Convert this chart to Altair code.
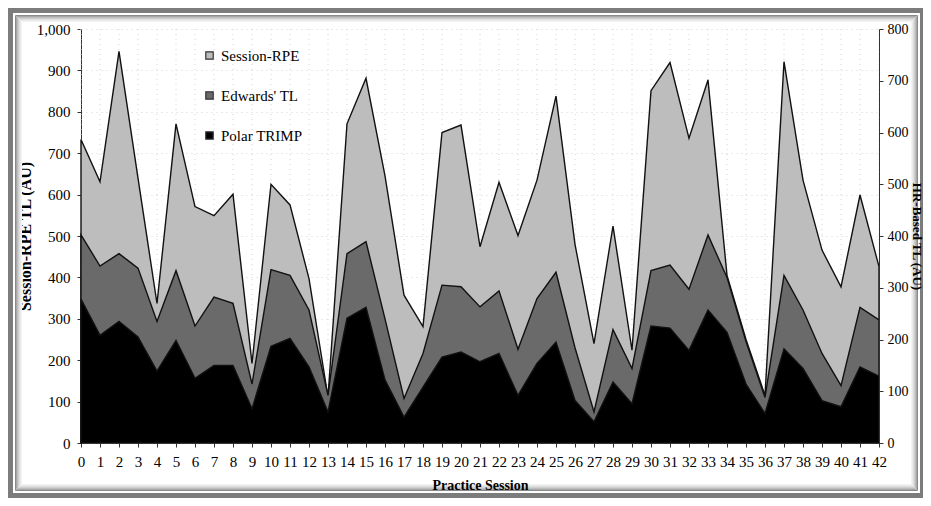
import altair as alt
import pandas as pd

sessions = list(range(43))
series_names = ["Session-RPE", "Edwards' TL", "Polar TRIMP"]
series_colors = ["#bdbdbd", "#6a6a6a", "#000000"]

# Session-RPE TL (left axis, AU)
session_rpe = [733, 631, 946, 640, 337, 771, 571, 549, 601, 192, 625,
               575, 397, 111, 771, 881, 645, 357, 281, 750, 768,
               474, 630, 501, 635, 838, 480, 240, 524, 224, 851,
               919, 736, 877, 405, 250, 115, 921, 635, 466, 377, 599, 426]
# HR-based TL (right axis, AU)
edwards_tl = [402, 342, 366, 338, 235, 333, 226, 282, 270, 114, 335,
              324, 257, 92, 366, 389, 240, 86, 173, 305, 302,
              263, 294, 181, 279, 330, 184, 60, 219, 144, 333,
              344, 297, 402, 320, 196, 88, 324, 257, 173, 111, 262, 238]
polar_trimp = [278, 208, 235, 205, 139, 198, 125, 150, 150, 66, 187,
               202, 147, 60, 241, 262, 122, 50, 108, 166, 176,
               157, 173, 92, 154, 195, 82, 41, 118, 76, 226,
               222, 179, 257, 214, 114, 57, 182, 144, 82, 70, 147, 129]

left_ticks = list(range(0, 1001, 100))
right_ticks = list(range(0, 801, 100))

rows = []
for name, vals in zip(series_names, [session_rpe, edwards_tl, polar_trimp]):
    for s, v in zip(sessions, vals):
        rows.append({"session": s, "series": name, "value": v})
df = pd.DataFrame(rows)
df_sessions = pd.DataFrame({"session": sessions})

FONT = "Liberation Serif"
W, H = 798, 414
PAD = {"left": 73, "top": 21, "right": 44, "bottom": 55}
CW = W + PAD["left"] + PAD["right"]
CH = H + PAD["top"] + PAD["bottom"]
RIGHT_SHIFT = 2  # frame's right side partly runs off the canvas


def frame(inset, color, width):
    # rectangle outline at given inset from the canvas edge (plot-relative pixels)
    return alt.Chart(alt.Data(values=[{}])).mark_rect(
        filled=False, stroke=color, strokeWidth=width
    ).encode(
        x=alt.value(inset - PAD["left"]),
        x2=alt.value(CW - inset + RIGHT_SHIFT - PAD["left"]),
        y=alt.value(inset - PAD["top"]),
        y2=alt.value(CH - inset - PAD["top"]),
    )


frames = [frame(2.5, "#7c7c7c", 5), frame(7.5, "#8a8a8a", 1)]
shade = ["#a8a8a8", "#bdbdbd", "#cfcfcf", "#dedede", "#eaeaea", "#f3f3f3"]
for i, c in enumerate(shade):
    frames.append(frame(8.5 + i, c, 1))

color = alt.Color(
    "series:N",
    scale=alt.Scale(domain=series_names, range=series_colors),
    sort=series_names,
    legend=alt.Legend(
        title=None, orient="none", legendX=121, legendY=19,
        symbolType="square", symbolSize=55, symbolStrokeColor="#333",
        symbolStrokeWidth=1.2, labelFont=FONT, labelFontSize=15,
        labelColor="black", rowPadding=24, labelOffset=4, padding=0,
    ),
)

x_scale = alt.Scale(domain=[0, 42], nice=False, zero=False)
x_enc = alt.X(
    "session:Q",
    scale=x_scale,
    axis=alt.Axis(values=sessions, format="d", title="Practice Session",
                  grid=False, labelPadding=7, titlePadding=9,
                  titleFontSize=14, labelOverlap=False, labelFlush=False,
                  labelFontSize=15, zindex=1),
)

y_left = alt.Y(
    "value:Q",
    scale=alt.Scale(domain=[0, 1000], nice=False),
    axis=alt.Axis(orient="left", values=left_ticks, format=",.0f",
                  title="Session-RPE TL (AU)", grid=True, labelPadding=7,
                  titlePadding=3, titleFontSize=16),
)

y_right = alt.Y(
    "value:Q",
    scale=alt.Scale(domain=[0, 800], nice=False),
    axis=alt.Axis(orient="right", values=right_ticks, format="d",
                  title="HR-Based TL (AU)", grid=False, labelPadding=4,
                  labelFontSize=14, titlePadding=1, titleFontSize=13,
                  zindex=1),
)

# faint vertical dotted grid, one per session
vgrid = alt.Chart(df_sessions).mark_rule(
    color="#d4d4d4", strokeDash=[1, 4], strokeWidth=1
).encode(x=x_enc)

area_kw = dict(stroke="#111", strokeWidth=1.4, strokeJoin="miter")

rpe = alt.Chart(df).transform_filter(
    alt.datum.series == "Session-RPE"
).mark_area(**area_kw).encode(x=x_enc, y=y_left, color=color)

edw = alt.Chart(df).transform_filter(
    alt.datum.series == "Edwards' TL"
).mark_area(**area_kw).encode(x=x_enc, y=y_right, color=color)

pol = alt.Chart(df).transform_filter(
    alt.datum.series == "Polar TRIMP"
).mark_area(**area_kw).encode(x=x_enc, y=y_right, color=color)

hr = alt.layer(edw, pol)

chart = alt.layer(*frames, vgrid, rpe, hr).resolve_scale(y="independent").properties(
    width=W, height=H,
    autosize=alt.AutoSizeParams(type="none"),
    padding=PAD,
).configure(background="white").configure_axis(
    labelFont=FONT, labelFontSize=15, labelColor="black",
    titleFont=FONT, titleFontWeight="bold", titleColor="black",
    domainColor="#333", tickColor="#333", tickSize=4,
    gridColor="#d4d4d4", gridDash=[1, 4], gridWidth=1,
).configure_view(stroke=None)

chart.save("out.html", embed_options={"renderer": "svg", "actions": False})
